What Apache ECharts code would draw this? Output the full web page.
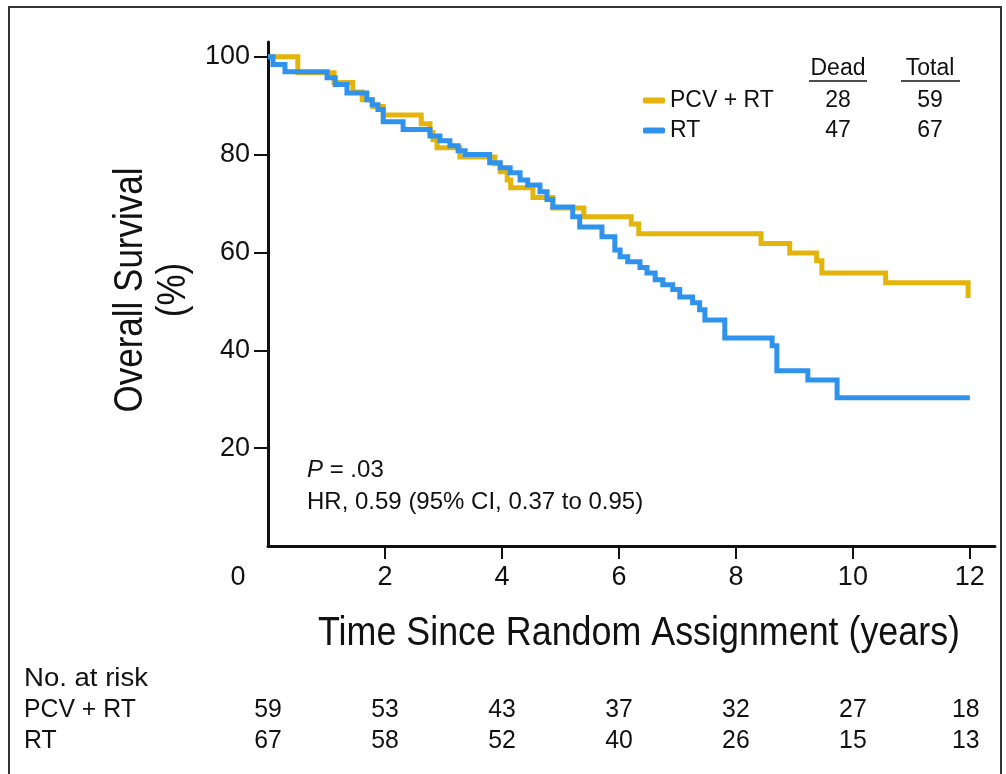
<!DOCTYPE html>
<html>
<head>
<meta charset="utf-8">
<script src="https://cdn.jsdelivr.net/npm/echarts@6/dist/echarts.min.js"></script>
<style>
html,body{margin:0;padding:0;background:#fff;}
#chart{width:1006px;height:774px;}
</style>
</head>
<body>
<div id="chart"></div>
<script>
// ---- data ----
const pcvTimes = [0, 0.51, 1.13, 1.45, 1.61, 1.79, 1.97, 2.62, 2.77, 2.82, 2.89, 3.28, 3.88, 3.97, 4.09, 4.15, 4.53, 4.87, 5.40, 6.21, 6.34, 8.43, 8.92, 9.38, 9.47, 10.56, 11.97];
const pcvSurv  = [100, 96.7, 94.7, 92.8, 91.2, 89.8, 88.1, 86.3, 84.5, 83.0, 81.4, 79.5, 78.1, 76.5, 74.8, 73.2, 71.2, 69.1, 67.3, 65.8, 63.8, 61.8, 59.9, 58.3, 55.8, 53.8, 50.7];
const rtTimes  = [0, 0.085, 0.29, 1.01, 1.15, 1.35, 1.69, 1.78, 1.88, 1.97, 2.31, 2.77, 2.94, 3.11, 3.25, 3.37, 3.79, 3.97, 4.14, 4.31, 4.44, 4.65, 4.77, 4.87, 5.21, 5.33, 5.71, 5.93, 6.02, 6.15, 6.36, 6.48, 6.62, 6.75, 6.92, 7.04, 7.26, 7.38, 7.47, 7.81, 8.62, 8.70, 9.23, 9.73, 12];
const rtSurv   = [100, 98.4, 96.9, 95.7, 94.3, 92.6, 91.2, 90.2, 89.2, 86.7, 85.1, 83.8, 82.8, 81.8, 80.8, 80.0, 78.3, 77.3, 76.3, 74.8, 73.8, 72.4, 70.8, 69.3, 67.3, 65.2, 63.2, 60.5, 59.1, 58.1, 56.9, 55.8, 54.4, 53.4, 52.4, 50.9, 49.7, 48.3, 46.2, 42.5, 40.9, 35.8, 33.9, 30.3, 30.3];

const seriesNames = ['PCV + RT', 'RT'];
const deadCounts = [28, 47];
const totalCounts = [59, 67];

const xTicks = [2, 4, 6, 8, 10, 12];
const yTicks = [20, 40, 60, 80, 100];

const riskTimes = [0, 2, 4, 6, 8, 10, 12];
const riskPCV = [59, 53, 43, 37, 32, 27, 18];
const riskRT  = [67, 58, 52, 40, 26, 15, 13];

const yTitle = ['Overall Survival', '(%)'];
const xTitle = 'Time Since Random Assignment (years)';
const riskTitle = 'No. at risk';

// ---- style ----
const YELLOW = '#E3B50C';
const BLUE = '#2F93EE';
const FONT = "'Liberation Sans', Arial, Helvetica, sans-serif";

const measureCtx = document.createElement('canvas').getContext('2d');
function textWidth(text, size) {
  measureCtx.font = size + "px 'Liberation Sans', Arial, sans-serif";
  return measureCtx.measureText(text).width;
}

const chart = echarts.init(document.getElementById('chart'), null, {renderer: 'canvas'});
const toPairs = (ts, ss) => ts.map((t, i) => [t, ss[i]]);

chart.setOption({
  animation: false,
  backgroundColor: '#fff',
  grid: {left: 268, top: 42, right: 11, bottom: 228, containLabel: false},
  xAxis: {
    type: 'value', min: 0, max: 12.43,
    axisLine: {show: true, lineStyle: {color: '#111', width: 3}},
    axisTick: {show: true, customValues: xTicks, length: 13, lineStyle: {color: '#111', width: 2}},
    axisLabel: {show: true, customValues: xTicks, margin: 18, fontSize: 27, color: '#111', fontFamily: FONT},
    splitLine: {show: false}
  },
  yAxis: {
    type: 'value', min: 0, max: 103,
    axisLine: {show: true, lineStyle: {color: '#111', width: 3}},
    axisTick: {show: true, customValues: yTicks, length: 14, lineStyle: {color: '#111', width: 2}},
    axisLabel: {show: true, customValues: yTicks, margin: 18, fontSize: 27, color: '#111', fontFamily: FONT},
    splitLine: {show: false}
  },
  legend: {
    data: seriesNames,
    orient: 'vertical',
    left: 643, top: 89, padding: 0,
    icon: 'roundRect',
    itemWidth: 22, itemHeight: 6, itemGap: 7,
    textStyle: {fontSize: 23, lineHeight: 23, color: '#111', fontFamily: FONT},
    selectedMode: false
  },
  series: [
    {name: seriesNames[0], type: 'line', step: 'end', symbol: 'none', color: YELLOW,
     lineStyle: {width: 5, color: YELLOW, cap: 'butt', join: 'miter'}, data: toPairs(pcvTimes, pcvSurv), z: 2},
    {name: seriesNames[1], type: 'line', step: 'end', symbol: 'none', color: BLUE,
     lineStyle: {width: 5, color: BLUE, cap: 'butt', join: 'miter'}, data: toPairs(rtTimes, rtSurv), z: 3}
  ]
});

const px = t => chart.convertToPixel({xAxisIndex: 0}, t);
const g = [];
const txt = (x, y, text, size, align, extra) => Object.assign({type: 'text', x: x, y: y,
  style: {text: text, fontSize: size, fill: '#111', fontFamily: FONT, textAlign: align, textVerticalAlign: 'middle'}}, extra || {});

// frame
g.push({type: 'rect', shape: {x: 9, y: 7, width: 992, height: 780}, style: {fill: null, stroke: '#333', lineWidth: 2}, silent: true});
// origin label
g.push(txt(px(0) - 30, 578, '0', 27, 'center'));
// y title (condensed)
const ySize = 41;
const yScale = 245 / textWidth(yTitle[0], ySize);
g.push(txt(131, 290, yTitle[0], ySize, 'center', {rotation: Math.PI / 2, scaleX: yScale}));
g.push(txt(174, 290, yTitle[1], ySize, 'center', {rotation: Math.PI / 2, scaleX: yScale}));
// x title (condensed)
const xSize = 40;
const xScale = 642 / textWidth(xTitle, xSize);
g.push(txt(639, 634, xTitle, xSize, 'center', {scaleX: xScale}));
// legend table
g.push(txt(838, 69, 'Dead', 23, 'center'));
g.push(txt(930, 69, 'Total', 23, 'center'));
g.push({type: 'line', shape: {x1: 809, y1: 81, x2: 867, y2: 81}, style: {stroke: '#111', lineWidth: 1.5}});
g.push({type: 'line', shape: {x1: 901, y1: 81, x2: 960, y2: 81}, style: {stroke: '#111', lineWidth: 1.5}});
[101, 131].forEach((yy, i) => {
  g.push(txt(838, yy, String(deadCounts[i]), 23, 'center'));
  g.push(txt(930, yy, String(totalCounts[i]), 23, 'center'));
});
// annotation
g.push({type: 'text', x: 307, y: 470, style: {text: '{i|P} = .03', fontSize: 24, fill: '#111', fontFamily: FONT, textAlign: 'left', textVerticalAlign: 'middle',
  rich: {i: {fontStyle: 'italic', fontSize: 24, fontFamily: FONT, fill: '#111'}}}});
g.push(txt(307, 502, 'HR, 0.59 (95% CI, 0.37 to 0.95)', 24, 'left'));
// risk table (condensed)
const rSize = 26;
const rScale = 124 / textWidth(riskTitle, rSize);
g.push(txt(24, 679, riskTitle, rSize, 'left', {scaleX: rScale}));
g.push(txt(24, 710, seriesNames[0], rSize, 'left', {scaleX: rScale * 0.9}));
g.push(txt(24, 741, seriesNames[1], rSize, 'left', {scaleX: rScale * 0.9}));
riskTimes.forEach((t, i) => {
  const xx = i === riskTimes.length - 1 ? px(t) - 4 : px(t);
  g.push(txt(xx, 710, String(riskPCV[i]), rSize, 'center', {scaleX: rScale * 0.9}));
  g.push(txt(xx, 741, String(riskRT[i]), rSize, 'center', {scaleX: rScale * 0.9}));
});
chart.setOption({graphic: g});
</script>
</body>
</html>
